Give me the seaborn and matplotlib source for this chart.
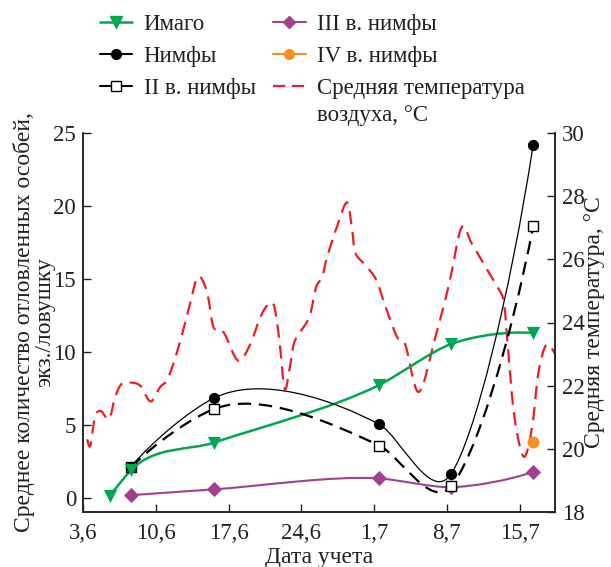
import numpy as np
import matplotlib.pyplot as plt
import seaborn as sns
from matplotlib.path import Path
from matplotlib.patches import PathPatch
from matplotlib.lines import Line2D

# days counted from 3 June
tick_days = [0, 7, 14, 21, 28, 35, 42]
tick_labels = ['3,6', '10,6', '17,6', '24,6', '1,7', '8,7', '15,7']

imago_days = [2.6, 4.6, 12.6, 28.5, 35.4, 43.3]
imago = [0.15, 1.9, 3.8, 7.75, 10.55, 11.3]

nymph_days = [4.6, 12.6, 28.5, 35.4, 43.3]
nymphs = [2.15, 6.85, 5.05, 1.65, 24.2]
nymphs_2 = [2.1, 6.1, 3.6, 0.8, 18.6]
nymphs_3 = [0.2, 0.6, 1.35, 0.75, 1.8]
nymphs_4_days = [43.3]
nymphs_4 = [3.85]

temp_days = [0.4, 0.7, 1.15, 1.7, 2.5, 3.1, 3.7, 4.5, 5.5, 6.5, 7.4, 8.2, 9.3, 10.3,
             11.05, 11.9, 12.5, 13.0, 13.6, 14.9, 16.0, 17.1, 17.9, 18.4, 18.9, 19.4,
             19.9, 20.3, 20.9, 21.8, 22.4, 23.0, 23.5, 24.5, 25.4, 25.9, 26.2, 27.2,
             28.2, 29.1, 30.2, 31.0, 32.3, 33.9, 35.2, 36.4, 37.4, 39.0, 40.0, 40.5,
             40.9, 41.5, 42.4, 43.2, 43.8, 44.6, 45.6]
temp = [20.3, 20.1, 21.0, 21.2, 20.95, 21.65, 22.05, 22.1, 22.0, 21.5, 21.95, 22.25, 23.35, 24.6,
        25.45, 25.0, 23.9, 23.8, 23.65, 22.8, 23.25, 24.2, 24.6, 24.5, 23.4, 21.9,
        22.6, 23.35, 23.7, 24.2, 25.1, 25.45, 26.1, 27.1, 27.8, 26.9, 26.2, 25.8,
        25.35, 24.5, 23.55, 23.3, 21.8, 23.55, 25.2, 27.0, 26.5, 25.6, 25.05, 24.6,
        23.1, 21.0, 19.75, 20.7, 22.4, 23.3, 22.9]

GREEN = '#00A651'
PURPLE = '#A0408F'
ORANGE = '#F7901E'
RED = '#EE1C25'
INK = '#231F20'


def cr_path(xs, ys):
    # Catmull-Rom curve through the points
    p = np.column_stack([xs, ys]).astype(float)
    ext = np.vstack([p[0], p, p[-1]])
    verts = [p[0]]
    codes = [Path.MOVETO]
    for i in range(len(p) - 1):
        p0, p1, p2, p3 = ext[i], ext[i + 1], ext[i + 2], ext[i + 3]
        verts += [p1 + (p2 - p0) / 6, p2 - (p3 - p1) / 6, p2]
        codes += [Path.CURVE4] * 3
    return Path(verts, codes)


def smooth_path(xs, ys, k=0.85):
    # hermite curve, slopes from the parabola through neighbours
    x = np.asarray(xs, float)
    y = np.asarray(ys, float)
    h = np.diff(x)
    s = np.diff(y) / h
    d = np.empty(len(x))
    d[1:-1] = (h[1:] * s[:-1] + h[:-1] * s[1:]) / (h[:-1] + h[1:])
    d[0] = 2 * s[0] - d[1]
    d[-1] = 2 * s[-1] - d[-2]
    verts = [(x[0], y[0])]
    codes = [Path.MOVETO]
    for i in range(len(x) - 1):
        c = k * h[i] / 3
        verts += [(x[i] + c, y[i] + d[i] * c),
                  (x[i + 1] - c, y[i + 1] - d[i + 1] * c),
                  (x[i + 1], y[i + 1])]
        codes += [Path.CURVE4] * 3
    return Path(verts, codes)


sns.set_theme(style='ticks')
plt.rcParams['font.family'] = ['Liberation Serif', 'DejaVu Serif']
TICK_FS = 16.5
LAB_FS = 17
LEG_FS = 16.5

fig = plt.figure(figsize=(6.11, 5.67), dpi=100)
ax = fig.add_axes([83 / 611, 1 - 512 / 567, (555 - 83) / 611, (512 - 133) / 567])
ax2 = ax.twinx()
ax.set_zorder(ax2.get_zorder() + 1)
ax.patch.set_visible(False)

# temperature (right axis)
ax2.add_patch(PathPatch(cr_path(temp_days, temp), fill=False, edgecolor=RED,
                        lw=1.6, linestyle=(0, (6, 3.5))))
ax2.set_ylim(18, 30)
ax2.set_yticks([18, 20, 22, 24, 26, 28, 30])

# counts (left axis)
ax.add_patch(PathPatch(smooth_path(imago_days, imago), fill=False, edgecolor=GREEN, lw=1.8))
ax.add_patch(PathPatch(smooth_path(nymph_days, nymphs), fill=False, edgecolor='black', lw=0.9))
ax.add_patch(PathPatch(smooth_path(nymph_days, nymphs_2), fill=False, edgecolor='black',
                       lw=1.6, linestyle=(0, (6, 3.5))))
ax.add_patch(PathPatch(smooth_path(nymph_days, nymphs_3), fill=False, edgecolor=PURPLE, lw=1.5))

sns.scatterplot(x=nymph_days, y=nymphs_3, marker='D', s=60, color=PURPLE, linewidth=0, ax=ax, zorder=5)
sns.scatterplot(x=nymph_days, y=nymphs_2, marker='s', s=60, color='white', edgecolor='black',
                linewidth=1.0, ax=ax, zorder=5)
sns.scatterplot(x=nymph_days, y=nymphs, marker='o', s=65, color='black', linewidth=0, ax=ax, zorder=6)
sns.scatterplot(x=imago_days, y=imago, marker='v', s=90, color=GREEN, linewidth=0, ax=ax, zorder=6)
sns.scatterplot(x=nymphs_4_days, y=nymphs_4, marker='o', s=75, color=ORANGE, linewidth=0, ax=ax, zorder=6)

ax.set_xlim(0, 45.4)
ax.set_ylim(-0.95, 25)
ax.set_yticks([0, 5, 10, 15, 20, 25])
ax.set_xticks(tick_days)
ax.set_xticklabels(tick_labels)

for a in (ax, ax2):
    a.tick_params(direction='in', length=6, width=1, labelsize=TICK_FS, pad=5, colors=INK)
    for s in a.spines.values():
        s.set_linewidth(1.1)
        s.set_color(INK)
    a.spines['top'].set_visible(False)
    a.grid(False)
ax.tick_params(axis='x', pad=8)

ax.set_xlabel('Дата учета', fontsize=LAB_FS, labelpad=2, color=INK)
ax.set_ylabel('Среднее количество отловленных особей,\nэкз./ловушку', fontsize=LAB_FS,
              linespacing=0.95, labelpad=-1.5, color=INK)
ax2.set_ylabel('Средняя температура, °С', fontsize=LAB_FS, labelpad=-0.5, color=INK)

handles = [
    Line2D([], [], color=GREEN, lw=1.8, marker='v', markersize=8.5),
    Line2D([], [], color='black', lw=1.5, marker='o', markersize=7),
    Line2D([], [], color='black', lw=1.5, marker='s', markersize=7, markerfacecolor='white'),
    Line2D([], [], color=PURPLE, lw=1.5, marker='D', markersize=6.5),
    Line2D([], [], color=ORANGE, lw=1.5, marker='o', markersize=7),
    Line2D([], [], color=RED, lw=1.6, linestyle=(0, (5.5, 3))),
]
labels = ['Имаго', 'Нимфы', 'II в. нимфы', 'III в. нимфы', 'IV в. нимфы',
          'Средняя температура']
leg = fig.legend(handles, labels, ncol=2, loc='upper left',
                 bbox_to_anchor=(100 / 611, 1 - 14 / 567),
                 frameon=False, fontsize=LEG_FS, handlelength=1.4, handletextpad=0.5,
                 columnspacing=0.78, labelspacing=0.48, borderpad=0, borderaxespad=0)
for t in leg.get_texts():
    t.set_color(INK)

fig.canvas.draw()
bb = leg.get_texts()[-1].get_window_extent()
fig.text(bb.x0 / fig.bbox.width, (bb.y0 - 6) / fig.bbox.height, 'воздуха, °C',
         fontsize=LEG_FS, va='top', ha='left', color=INK)

fig.savefig('out.png', dpi=100)
